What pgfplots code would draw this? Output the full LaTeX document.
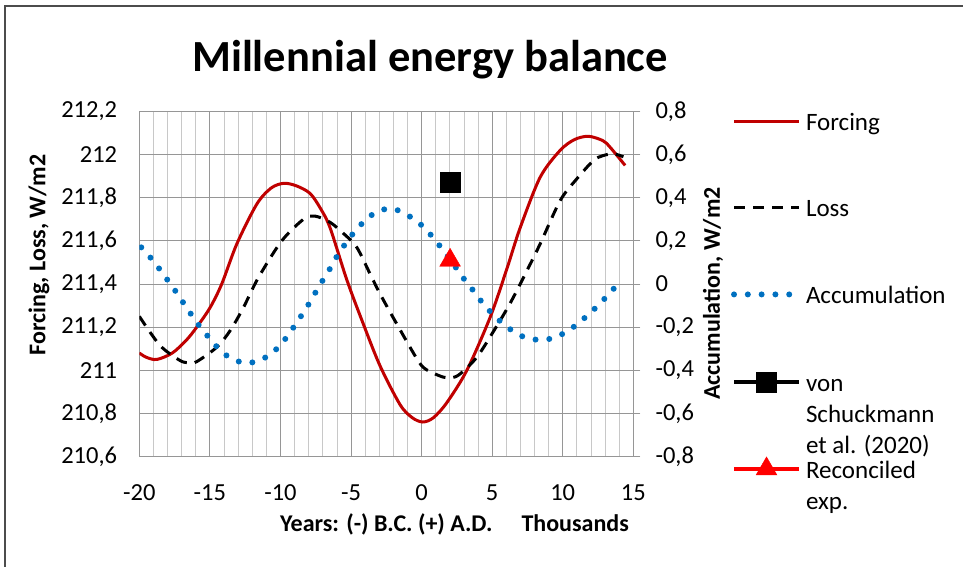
\documentclass[border=0pt]{standalone}
\usepackage{fontspec}
\setmainfont{Carlito}
\usepackage{pgfplots}
\pgfplotsset{compat=1.18}
\definecolor{forc}{RGB}{192,0,0}
\definecolor{acc}{RGB}{0,112,192}
\definecolor{recon}{RGB}{255,0,0}
\definecolor{gridminor}{RGB}{200,200,200}
\definecolor{gridmajor}{RGB}{150,150,150}
\begin{document}
\begin{tikzpicture}[x=1pt,y=1pt]
\useasboundingbox (0,0) rectangle (963,566);
\draw[line width=1.5pt, black!70] (5,-10) -- (5,560) -- (975,560);
\pgfplotsset{
  forcing/.style={color=forc, line width=3pt, smooth},
  loss/.style={black, line width=3pt, dash pattern=on 11pt off 8pt, smooth},
  accum/.style={color=acc, line width=6pt, line cap=round, dash pattern=on 0pt off 13.8pt, smooth},
  common/.style={scale only axis, width=494pt, height=345pt, at={(139.3pt,109.5pt)}, anchor=south west,
    xmin=-20, xmax=15, scaled ticks=false,
    /pgf/number format/assume math mode=true, /pgf/number format/use comma, /pgf/number format/1000 sep={},
    tick label style={font=\fontsize{24.5}{28}\selectfont},
    label style={font=\fontsize{24}{28}\selectfont\bfseries}},
  legend image code/.code={\path (0pt,-12pt) (65pt,12pt); \draw[mark repeat=2,mark phase=2,#1] plot coordinates {(0pt,0pt) (32.5pt,0pt) (65pt,0pt)};},
}
\begin{axis}[common,
  ymin=210.6, ymax=212.2,
  xtick={-20,-15,...,15}, minor x tick num=4,
  ytick={210.6,210.8,211,211.2,211.4,211.6,211.8,212,212.2},
  grid=both,
  major grid style={gridmajor, line width=1pt},
  minor grid style={gridminor, line width=0.8pt},
  axis line style={gridmajor, line width=1pt},
  tick style={draw=none},
  yticklabel style={anchor=east, inner sep=0pt, xshift=-22pt},
  xticklabel style={anchor=north, inner sep=0pt, yshift=-28pt},
  ylabel={Forcing, Loss, W/m2},
  ylabel style={at={(axis description cs:-0.203,0.584)}, anchor=center},
  xlabel={Years: (-) B.C. (+) A.D.},
  xlabel style={at={(axis description cs:0.5,-0.218)}, anchor=base},
]
\addplot[forcing] coordinates {
(-20,211.08) (-19.5,211.06) (-18.76,211.05) (-17.66,211.08) (-16.66,211.14) (-15.93,211.2)
(-14.99,211.29) (-14.16,211.40) (-13.09,211.586) (-11.68,211.77) (-10.66,211.845) (-9.76,211.867)
(-8.86,211.855) (-7.9,211.82) (-7.16,211.75) (-6.48,211.66) (-5.3,211.42) (-4.16,211.22)
(-2.94,211.02) (-1.52,210.84) (-0.66,210.78) (0.09,210.76) (0.84,210.78) (1.79,210.85)
(3.21,211.0) (4.86,211.246) (6.04,211.47) (6.98,211.66) (8.4,211.895) (9.82,212.02)
(10.84,212.07) (11.82,212.085) (12.84,212.065) (13.36,212.034) (14.42,211.95)
};
\addplot[loss] coordinates {
(-20,211.25) (-18.53,211.115) (-17.11,211.045) (-16.46,211.035) (-15.93,211.04) (-14.51,211.107)
(-13.56,211.184) (-12.63,211.29) (-11.56,211.43) (-9.91,211.6) (-8.37,211.70) (-7.56,211.715)
(-6.48,211.686) (-5.46,211.63) (-4.59,211.57) (-3.65,211.447) (-2.94,211.354) (-1.76,211.215)
(-0.1,211.03) (0.74,210.99) (1.55,210.968) (2.14,210.965) (2.73,210.983) (3.91,211.06)
(5.09,211.18) (6.27,211.31) (7.45,211.46) (8.4,211.586) (9.82,211.787) (11.0,211.888)
(12.18,211.973) (12.84,211.995) (13.6,212.004) (14.3,211.99)
};
\end{axis}
\begin{axis}[common,
  ymin=-0.8, ymax=0.8,
  axis x line=none, axis y line*=right,
  ytick={-0.8,-0.6,-0.4,-0.2,0,0.2,0.4,0.6,0.8},
  axis line style={gridmajor, line width=1pt},
  ytick style={gridmajor, line width=1pt},
  tick align=outside, major tick length=7pt,
  yticklabel style={anchor=west, inner sep=0pt, xshift=15pt},
  ylabel={Accumulation, W/m2},
  ylabel style={at={(axis description cs:1.1613,0.4725)}, anchor=center},
  legend style={at={(axis description cs:1.1978,1.0104)}, anchor=north west, draw=none, fill=none,
    inner sep=0pt, outer sep=0pt, row sep=58.75pt, column sep=2pt,
    font=\fontsize{25}{31}\selectfont},
  legend cell align=left,
]
\addlegendimage{forcing}
\addlegendentry{\raisebox{0pt}[20.5pt][0pt]{Forcing}}
\addlegendimage{loss}
\addlegendentry{\raisebox{0pt}[20.5pt][0pt]{Loss}}
\addplot[accum] coordinates {
(-19.86,0.17) (-19.19,0.121) (-18.53,0.066) (-17.94,0.013) (-17.35,-0.041) (-16.8,-0.095)
(-16.24,-0.149) (-15.65,-0.203) (-14.99,-0.254) (-14.33,-0.304) (-13.57,-0.342) (-12.58,-0.366)
(-11.63,-0.358) (-10.73,-0.327) (-9.98,-0.281) (-9.36,-0.228) (-8.8,-0.174) (-8.25,-0.12)
(-7.73,-0.064) (-7.21,-0.004) (-6.67,0.05) (-6.18,0.109) (-5.65,0.163) (-5.06,0.217)
(-4.4,0.268) (-3.7,0.313) (-2.86,0.342) (-2.3,0.35) (-1.76,0.344) (-0.86,0.314)
(-0.06,0.276) (0.65,0.228) (1.31,0.175) (1.94,0.12) (2.5,0.07) (3.09,0.016)
(3.72,-0.035) (4.31,-0.087) (4.97,-0.135) (5.73,-0.182) (6.51,-0.22) (7.41,-0.25)
(8.4,-0.259) (9.39,-0.25) (10.29,-0.22) (11.12,-0.182) (11.87,-0.138) (12.58,-0.095)
(13.27,-0.046) (13.98,0.004)
};
\addlegendentry{\raisebox{0pt}[20.5pt][0pt]{Accumulation}}
\addplot[black, line width=4pt, mark=square*, mark size=10pt, mark options={solid, line width=0.4pt}] coordinates {(2.02,0.47)};
\addlegendentry{\raisebox{0pt}[20.5pt][0pt]{\begin{tabular}[t]{@{}l@{}}von\\Schuckmann\\et al. (2020)\end{tabular}}}
\addplot[recon, line width=4pt, mark=triangle*, mark size=12pt, mark options={solid, line width=0.4pt}] coordinates {(2.02,0.11)};
\addlegendentry{\raisebox{0pt}[20.5pt][0pt]{\begin{tabular}[t]{@{}l@{}}Reconciled\\exp.\end{tabular}}}
\end{axis}
\node[font=\fontsize{44.5}{50}\selectfont\bfseries, anchor=base] at (430,494.3) {Millennial energy balance};
\node[font=\fontsize{24}{28}\selectfont\bfseries, anchor=base west] at (518,34.3) {Thousands};
\end{tikzpicture}
\end{document}
